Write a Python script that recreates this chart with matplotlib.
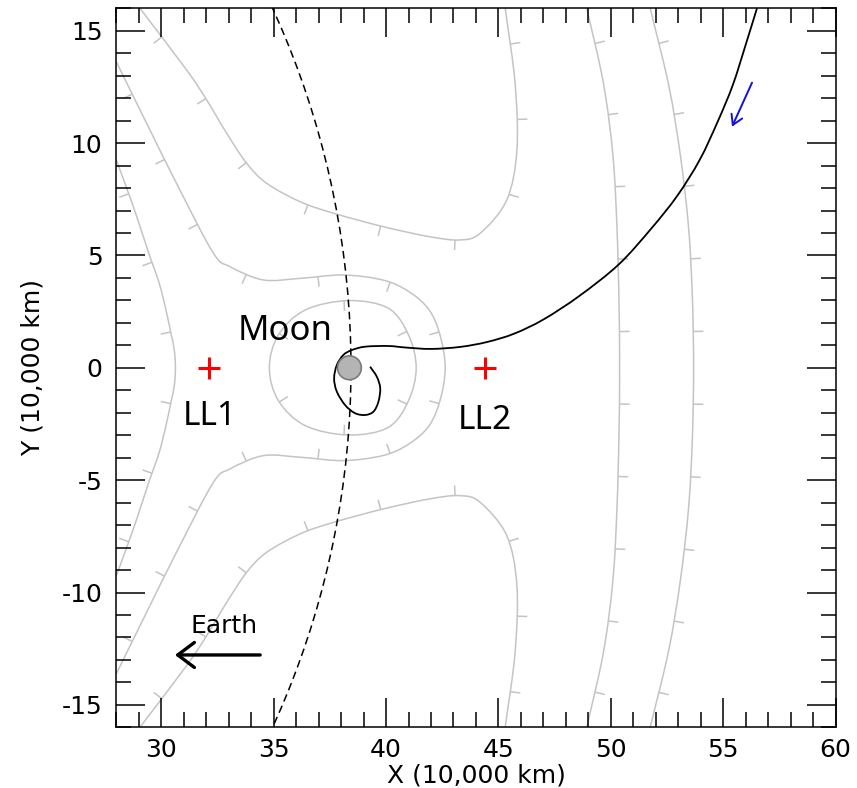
import numpy as np
import matplotlib
matplotlib.use('Agg')
import matplotlib.pyplot as plt
from matplotlib import patheffects
from matplotlib.patches import Circle, PathPatch
from matplotlib.path import Path
from matplotlib.ticker import MultipleLocator

plt.rcParams['font.family'] = ['DejaVu Sans']
plt.rcParams['axes.unicode_minus'] = False

# ---- traced zero-velocity contours (upper halves; mirrored about y = 0) ----
inner_x = [34.81, 35.21, 36.40, 38.33, 40.10, 41.00, 41.34]
inner_y = [0.00, 1.46, 2.57, 2.99, 2.65, 1.46, 0.00]

c2_x = [28.00, 29.35, 30.83, 32.32, 33.06, 34.54, 36.18, 38.10, 39.88, 41.00, 41.90, 42.40, 42.63]
c2_y = [13.62, 10.88, 7.91, 5.10, 4.50, 3.91, 3.98, 4.13, 3.90, 3.40, 2.60, 1.46, 0.00]

left_x = [28.00, 28.76, 29.42, 29.91, 30.21, 30.43, 30.58, 30.63]
left_y = [9.25, 7.17, 5.17, 3.76, 2.57, 1.54, 0.79, 0.00]

r1_x = [48.93, 49.67, 50.09, 50.27, 50.36, 50.39]
r1_y = [16.00, 12.66, 9.47, 6.28, 3.02, 0.00]

r2_x = [51.75, 52.57, 53.09, 53.46, 53.63, 53.68]
r2_y = [16.00, 12.59, 9.47, 6.21, 3.02, 0.00]

a_x = [29.05, 31.13, 32.02, 32.91, 33.80, 34.69, 36.18, 37.66, 39.88, 41.96, 43.30, 44.19, 45.37, 45.82, 45.74, 45.30]
a_y = [16.00, 13.25, 11.92, 10.44, 9.10, 8.21, 7.39, 6.88, 6.28, 5.83, 5.69, 5.99, 7.47, 9.69, 12.66, 16.00]

# ---- trajectory ----
traj_x = [56.50, 56.02, 55.43, 54.75, 53.95, 52.95, 51.80, 50.35, 48.60, 47.00, 45.70,
          44.50, 43.30, 42.00, 40.90, 40.10, 39.07, 38.48, 38.10, 37.81, 37.69, 37.81,
          38.18, 38.62, 39.07, 39.44, 39.66, 39.74, 39.59, 39.29]
traj_y = [16.00, 14.45, 12.60, 10.95, 9.25, 7.65, 6.20, 4.60, 3.20, 2.15, 1.52,
          1.15, 0.93, 0.84, 0.90, 0.97, 0.94, 0.79, 0.57, 0.12, -0.47, -1.06,
          -1.66, -2.02, -2.10, -1.95, -1.51, -0.91, -0.40, 0.05]

moon_pos = (38.37, 0.0)
moon_radius = 0.53
moon_orbit_radius = 38.44
lagrange_x = [32.14, 44.41]
lagrange_names = ['LL1', 'LL2']
lagrange_label_y = [-2.55, -2.72]

earth_arrow_start = (34.40, -12.78)
earth_arrow_end = (30.61, -12.78)
earth_label_pos = (32.79, -11.82)
blue_arrow_start = (56.28, 12.69)
blue_arrow_end = (55.39, 10.73)
moon_label_pos = (35.53, 1.24)

xlim = (28, 60)
ylim = (-16, 16)


def smooth_path(xs, ys, closed=False):
    """Smooth Bezier path passing through the traced points."""
    p = np.column_stack([xs, ys]).astype(float)
    n = len(p)
    if closed:
        P = np.vstack([p[-1:], p, p[:2]])
        nseg = n
    else:
        P = np.vstack([2 * p[0] - p[1], p, 2 * p[-1] - p[-2]])
        nseg = n - 1
    verts = [P[1]]
    codes = [Path.MOVETO]
    for i in range(1, nseg + 1):
        c1 = P[i] + (P[i + 1] - P[i - 1]) / 6.0
        c2 = P[i + 1] - (P[i + 2] - P[i]) / 6.0
        verts += [c1, c2, P[i + 1]]
        codes += [Path.CURVE4] * 3
    return Path(np.array(verts), codes)


def mirror_open(xs, ys):
    fx = list(xs) + list(xs[::-1][1:])
    fy = list(ys) + [-v for v in ys[::-1][1:]]
    return fx, fy


fig = plt.figure(figsize=(8.57, 7.88), dpi=100)
ax = fig.add_axes([0.1357, 0.0770, 0.8394, 0.9125])

grey = '#c4c4c4'


def ticked(angle):
    return [patheffects.withTickedStroke(spacing=52, angle=angle, length=0.14)]


def draw_contour(path, angle):
    ax.add_patch(PathPatch(path, fill=False, edgecolor=grey, lw=1.1,
                           path_effects=ticked(angle), zorder=1))


# inner closed loop around the Moon
ix = list(inner_x) + list(inner_x[::-1][1:-1])
iy = list(inner_y) + [-v for v in inner_y[::-1][1:-1]]
draw_contour(smooth_path(ix, iy, closed=True), -90)

for xs, ys, ang in [(c2_x, c2_y, -90), (left_x, left_y, -90),
                    (r1_x, r1_y, 90), (r2_x, r2_y, 90)]:
    fx, fy = mirror_open(xs, ys)
    draw_contour(smooth_path(fx, fy), ang)

draw_contour(smooth_path(a_x, a_y), -90)
draw_contour(smooth_path(a_x, [-v for v in a_y]), 90)

# Moon orbit (dashed)
ax.add_patch(Circle((0, 0), moon_orbit_radius, fill=False, ls=(0, (5, 3)),
                    lw=1.1, color='black', zorder=2))

# trajectory
ax.add_patch(PathPatch(smooth_path(traj_x, traj_y), fill=False,
                       edgecolor='black', lw=1.3, zorder=3))

# Moon disk
ax.add_patch(Circle(moon_pos, moon_radius, facecolor='#b4b4b4', edgecolor='#7a7a7a',
                    lw=1.2, zorder=4))

# Lagrange points
ax.plot(lagrange_x, [0, 0], ls='none', marker='+', ms=16, mew=2.2, color='red', zorder=5)
for lx, name, ly in zip(lagrange_x, lagrange_names, lagrange_label_y):
    ax.text(lx, ly, name, fontsize=24, ha='center', va='baseline',
            family=['Noto Sans', 'DejaVu Sans'])

ax.text(*moon_label_pos, 'Moon', fontsize=25, ha='center', va='baseline',
        family=['Noto Sans', 'DejaVu Sans'])

ax.annotate('', xy=earth_arrow_end, xytext=earth_arrow_start,
            arrowprops=dict(arrowstyle='->,head_length=0.6,head_width=0.45',
                            lw=2.4, color='black', mutation_scale=20,
                            shrinkA=0, shrinkB=0))
ax.text(*earth_label_pos, 'Earth', fontsize=18, ha='center', va='baseline')

ax.annotate('', xy=blue_arrow_end, xytext=blue_arrow_start,
            arrowprops=dict(arrowstyle='->,head_length=0.5,head_width=0.3',
                            lw=1.4, color='#1010e0', mutation_scale=14,
                            shrinkA=0, shrinkB=0))

ax.set_xlim(*xlim)
ax.set_ylim(*ylim)
ax.set_xticks(range(30, 61, 5))
ax.set_yticks(range(-15, 16, 5))
ax.xaxis.set_minor_locator(MultipleLocator(1))
ax.yaxis.set_minor_locator(MultipleLocator(1))
ax.tick_params(which='major', direction='in', length=21, width=1.1,
               top=True, right=True, labelsize=18)
ax.tick_params(which='minor', direction='in', length=11, width=1.1,
               top=True, right=True)
ax.tick_params(axis='x', which='major', pad=7.5)
ax.tick_params(axis='y', which='major', pad=10)
for s in ax.spines.values():
    s.set_linewidth(1.1)

ax.set_xlabel('X (10,000 km)', fontsize=18, labelpad=1)
ax.set_ylabel('Y (10,000 km)', fontsize=18)
ax.yaxis.set_label_coords(-0.099, 0.5)

fig.savefig('out.png', dpi=100)
